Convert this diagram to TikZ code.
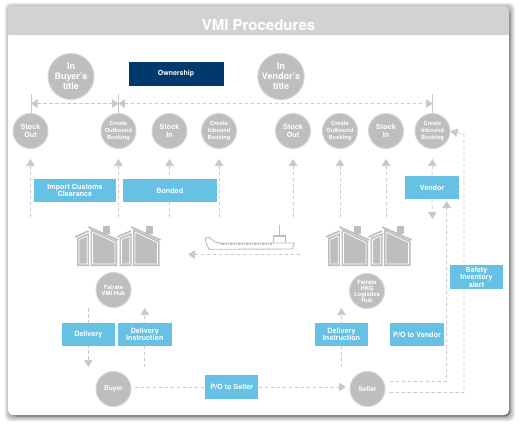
\documentclass[tikz,border=0pt]{standalone}
\usepackage{fontspec}
\setmainfont{TeX Gyre Heros}
\usetikzlibrary{arrows.meta}
\definecolor{greyc}{HTML}{BEBEBE}
\definecolor{ringc}{HTML}{D6D6D6}
\definecolor{headc}{HTML}{D1D2D4}
\definecolor{bluec}{HTML}{66C1E4}
\definecolor{navyc}{HTML}{003A6C}
\definecolor{linec}{HTML}{C8C8C8}
\pgfdeclarelayer{panel}
\pgfdeclarelayer{lines}
\pgfsetlayers{panel,lines,main}
\newcommand{\fs}[2]{\fontsize{#1}{#2}\selectfont\bfseries}
\tikzset{
  big/.style={circle,fill=greyc,draw=ringc,line width=1pt,minimum size=46pt,inner sep=0pt,align=center,text=white,font=\fs{9}{10}},
  small/.style={circle,fill=greyc,draw=ringc,line width=1pt,minimum size=35pt,inner sep=0pt,align=center,text=white,font=\fs{7.2}{7.5}},
  tiny/.style={small,font=\fs{5.7}{7}},
  hub/.style={small,font=\fs{5.9}{6}},
  bluebox/.style={fill=bluec,draw=none,minimum width=53.5pt,minimum height=23.5pt,inner sep=0pt,align=center,text=white,font=\fs{7.2}{7.6}},
  flow/.style={draw=linec,line width=.7pt,dash pattern=on 3.5pt off 2.5pt,-{Triangle[width=8.5pt,length=7pt,fill=linec]}},
  both/.style={draw=linec,line width=.7pt,dash pattern=on 3.5pt off 2.5pt,{Triangle[width=8.5pt,length=6.5pt,fill=linec]}-{Triangle[width=8.5pt,length=6.5pt,fill=linec]}},
  plain/.style={draw=linec,line width=.7pt,dash pattern=on 3.5pt off 2.5pt},
  tick/.style={draw=linec,line width=.9pt},
}
\newcommand{\onehouse}[1]{%
  \begin{scope}[shift={(#1,0)}]
    \fill[greyc] (28,226) rectangle (35,234);
    \fill[greyc] (2,238) -- (14,233) -- (14,266) -- (2,266) -- cycle;
    \fill[greyc] (15.5,229) -- (42,241) -- (42,266) -- (15.5,266) -- cycle;
    \draw[white,line width=.7pt] (4,239.5) -- (12.3,236) -- (12.3,264) -- (4,264) -- cycle;
    \draw[white,line width=.7pt] (17.5,232) -- (40,242.5) -- (40,264) -- (17.5,264) -- cycle;
    \draw[white,line width=1pt] (14.8,229) -- (14.8,266);
    \draw[greyc,line width=1.7pt] (0,237) -- (13.5,231);
    \draw[greyc,line width=1.7pt] (13.5,227) -- (43,240);
  \end{scope}}
\begin{document}
\begin{tikzpicture}[x=1pt,y=-1pt]
\useasboundingbox (0,0) rectangle (519,426);
\begin{pgfonlayer}{panel}
  \fill[white] (0,0) rectangle (519,426);
  \foreach \o in {5,4.5,4,3.5,3,2.5,2,1.5,1,.5}
    \fill[black,opacity=.035,rounded corners=5pt] (8-\o+1.5,6-\o+1.5) rectangle (509+\o+1,415+\o+1.5);
  \fill[black!65,opacity=.6,rounded corners=5pt] (11,9) rectangle (510.3,416.5);
  \fill[white,rounded corners=5pt] (8,6) rectangle (509,415);
  \fill[headc,rounded corners=5pt] (8,35) -- (8,6) -- (509,6) -- (509,35) -- cycle;
  \fill[headc] (8,15) rectangle (509,35);
\end{pgfonlayer}
\node[text=white,font=\fs{15}{16}] (title) at (258.5,25) {VMI Procedures};

\node[big] (buyertitle) at (71,76.5) {In\\Buyer's\\title};
\node[big] (vendortitle) at (281,76.5) {In\\Vendor's\\title};
\node[fill=navyc,minimum width=95pt,minimum height=24pt,inner sep=0pt,text=white,font=\fs{7}{8}] (own) at (176,74) {Ownership};

\node[small] (s1) at (30.5,131) {Stock\\Out};
\node[tiny]  (s2) at (118.5,131) {Create\\Outbound\\Booking};
\node[small] (s3) at (169.5,131) {Stock\\In};
\node[tiny]  (s4) at (219,131) {Create\\Inbound\\Booking};
\node[small] (s5) at (293,131) {Stock\\Out};
\node[tiny]  (s6) at (340,131) {Create\\Outbound\\Booking};
\node[small] (s7) at (386,131) {Stock\\In};
\node[tiny]  (s8) at (432.5,131) {Create\\Inbound\\Booking};

\node[bluebox,minimum width=82pt] (import) at (75,190.5) {Import Customs\\Clearance};
\node[bluebox,minimum width=94.5pt] (bonded) at (169.75,190.5) {Bonded};
\node[bluebox,minimum width=54pt] (vendor) at (432,187.5) {Vendor};

\node[hub] (hubL) at (113.5,290) {Fairate\\VMI Hub};
\node[hub] (hubR) at (367,291) {Fairate\\HKG\\Logistics\\Hub};
\node[small,font=\fs{6.6}{7.5}] (buyer) at (113.5,389) {Buyer};
\node[small,font=\fs{6.6}{7.5}] (seller) at (367.5,389) {Seller};

\node[bluebox] (delivery) at (88.3,334.5) {Delivery};
\node[bluebox] (instrL) at (144.8,334.5) {Delivery\\Instruction};
\node[bluebox] (instrR) at (341.5,334.5) {Delivery\\Instruction};
\node[bluebox,minimum width=54pt] (povendor) at (417,334.5) {P/O to Vendor};
\node[bluebox] (poseller) at (231.7,387) {P/O to Seller};
\node[bluebox,minimum height=24pt] (safety) at (476.5,277) {Safety\\Inventory\\alert};

% free ends
\coordinate (tA1) at (31,94);  \coordinate (tA2) at (31,113);
\coordinate (tB1) at (118.5,94); \coordinate (tB2) at (118.5,114);
\coordinate (tC1) at (432.5,94); \coordinate (tC2) at (432.5,113);
\coordinate (mA) at (31,103.5); \coordinate (mB) at (118.5,103.5); \coordinate (mC) at (432.5,103.5);
\foreach \n/\x in {1/30.5,2/118.5,3/169.5,4/219,5/293,6/340,7/386,8/432.5}{
  \coordinate (up\n) at (\x,159);
  \coordinate (lo\n) at (\x,217);
}
\coordinate (v8) at (432.5,219);
\coordinate (dlTop) at (88.3,308); \coordinate (dlBot) at (88.3,367);
\coordinate (inBot) at (144.8,367); \coordinate (inTop) at (144.8,308);
\coordinate (irBot) at (341.5,367); \coordinate (irTop) at (341.5,308);
\coordinate (seaR) at (300,254.5); \coordinate (seaL) at (188,254.5);
\coordinate (pv0) at (389.5,381); \coordinate (pv1) at (446.7,381); \coordinate (pv2) at (446.7,201);
\coordinate (sa0) at (389.5,392.5); \coordinate (sa1) at (464,392.5); \coordinate (sa2) at (464,134.5);

\begin{pgfonlayer}{lines}
  \draw[tick] (tA1) -- (tA2);
  \draw[tick] (tB1) -- (tB2);
  \draw[tick] (tC1) -- (tC2);
  \draw[both] (mA) -- (mB);
  \draw[both] (mB) -- (mC);
  \foreach \n in {1,...,7} \draw[flow] (lo\n) -- (up\n);
  \draw[flow] (vendor.north) -- (up8);
  \draw[flow] (vendor.south) -- (v8);
  \draw[flow] (seaR) -- (seaL);
  \draw[flow] (dlTop) -- (dlBot);
  \draw[flow] (inBot) -- (inTop);
  \draw[flow] (irBot) -- (irTop);
  \draw[plain,shorten <=3pt] (poseller.west -| buyer.east) -- (poseller.west);
  \draw[flow,shorten >=3.5pt] (poseller.east) -- (poseller.east -| seller.west);
  \draw[flow] (pv0) -- (pv1) -- (pv2);
  \draw[flow] (sa0) -- (sa1) -- (sa2) -- (s8.east);
\end{pgfonlayer}

% warehouses
\onehouse{75} \onehouse{117.5}
\onehouse{326} \onehouse{368.5}

% ship
\fill[greyc] (278.7,225) rectangle (279.5,235);
\draw[greyc,line width=.9pt,fill=white] (273.5,235) rectangle (285,243);
\fill[greyc] (273.5,235) rectangle (285,237);
\draw[greyc,line width=.9pt,fill=white,line join=round]
  (205,238) -- (209.5,237.5) -- (215,242) -- (220,243) -- (294,243) -- (292.5,249) -- (209,249.3) -- (206.5,244) -- cycle;
\draw[greyc,line width=1.5pt,dash pattern=on 1pt off .6pt] (220,243.8) -- (272,243.8);
\end{tikzpicture}
\end{document}
